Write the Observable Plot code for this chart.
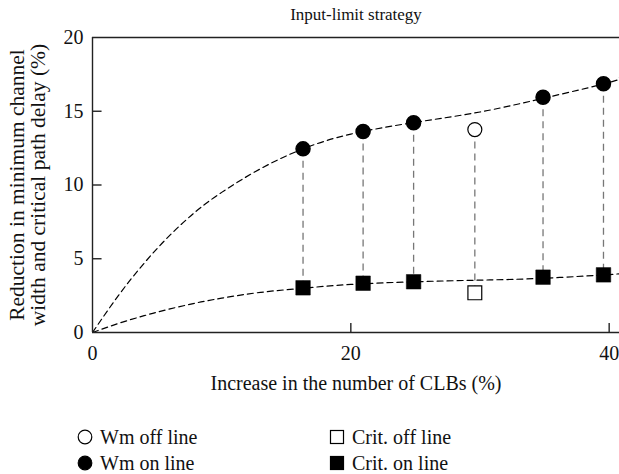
<!DOCTYPE html>
<html>
<head>
<meta charset="utf-8">
<script src="https://cdn.jsdelivr.net/npm/d3@7"></script>
<script src="https://cdn.jsdelivr.net/npm/@observablehq/plot@0.6"></script>
<style>
  html, body { margin: 0; padding: 0; background: #fff; }
  #wrap { position: relative; width: 619px; height: 474px; font-family: "Liberation Serif", serif; color: #111; }
  #legend { position: absolute; left: 0; top: 400px; width: 619px; height: 74px; }
  .item { position: absolute; display: flex; align-items: center; font-size: 20px; line-height: 20px; white-space: nowrap; }
  .item svg { margin-right: 7px; }
</style>
</head>
<body>
<div id="wrap"><div id="chart"></div><div id="legend"></div></div>
<script>
// ---- data ----
const title = "Input-limit strategy";
const xLabel = "Increase in the number of CLBs (%)";
const yLabel = "Reduction in minimum channel\nwidth and critical path delay (%)";

const onX      = [16.3, 20.95, 24.86, 34.88, 39.56];
const wmOn     = [12.45, 13.63, 14.22, 15.95, 16.86];
const critOn   = [3.03, 3.34, 3.44, 3.75, 3.91];

const offX     = [29.6];
const wmOff    = [13.76];
const critOff  = [2.69];

// dashed trend curves
const fitX     = [0, 2, 4, 6, 8, 10, 13, 16.3, 20, 25, 30, 35, 40, 40.8];
const wmFit    = [0, 2.5, 4.7, 6.6, 8.2, 9.5, 11.1, 12.45, 13.45, 14.25, 14.95, 15.9, 16.95, 17.3];
const critFit  = [0, 0.61, 1.14, 1.6, 2.0, 2.33, 2.72, 3.0, 3.26, 3.44, 3.55, 3.68, 3.93, 3.98];

const xTicks = [0, 20, 40];
const yTicks = [0, 5, 10, 15, 20];

const legendItems = [
  {label: "Wm off line", symbol: "circle", filled: false},
  {label: "Wm on line", symbol: "circle", filled: true},
  {label: "Crit. off line", symbol: "square", filled: false},
  {label: "Crit. on line", symbol: "square", filled: true}
];

// ---- tables ----
const onPts  = onX.map((x, i) => ({x, wm: wmOn[i], crit: critOn[i]}));
const offPts = offX.map((x, i) => ({x, wm: wmOff[i], crit: critOff[i]}));
const allPts = onPts.concat(offPts);
const fit    = fitX.map((x, i) => ({x, wm: wmFit[i], crit: critFit[i]}));

const font = "Liberation Serif";

const chart = Plot.plot({
  width: 619,
  height: 400,
  marginTop: 37,
  marginBottom: 68,
  marginLeft: 92,
  marginRight: 0,
  style: {fontFamily: font, fontSize: "20px", color: "#111", background: "#fff"},
  x: {domain: [0, 40.8]},
  y: {domain: [0, 20]},
  marks: [
    // title
    Plot.text([title], {frameAnchor: "top", lineAnchor: "middle", textAnchor: "middle", dy: -23, fontSize: 17, fill: "#111"}),
    // connectors
    Plot.link(allPts, {x1: "x", x2: "x", y1: "wm", y2: "crit", stroke: "#777", strokeWidth: 1.3, strokeDasharray: "7,5"}),
    // trend curves
    Plot.line(fit, {x: "x", y: "wm", curve: "natural", stroke: "#000", strokeWidth: 1.2, strokeDasharray: "6,4", clip: true}),
    Plot.line(fit, {x: "x", y: "crit", curve: "natural", stroke: "#000", strokeWidth: 1.2, strokeDasharray: "6,4", clip: true}),
    // frame (left, bottom, top)
    Plot.ruleX([0], {stroke: "#222", strokeWidth: 1.4}),
    Plot.ruleY([0, 20], {stroke: "#222", strokeWidth: 1.4}),
    // inward ticks
    Plot.link(yTicks.slice(1, -1), {x1: 0, x2: 0.7, y1: d => d, y2: d => d, stroke: "#222", strokeWidth: 1.4}),
    Plot.link(xTicks.slice(1), {x1: d => d, x2: d => d, y1: 0, y2: 0.65, stroke: "#222", strokeWidth: 1.4}),
    Plot.axisX({ticks: xTicks, tickSize: 0, tickPadding: 13, fontSize: 20, label: null}),
    Plot.axisY({ticks: yTicks, tickSize: 0, tickPadding: 9, fontSize: 20, label: null}),
    // axis labels
    Plot.text([xLabel], {frameAnchor: "bottom", lineAnchor: "middle", textAnchor: "middle", dy: 51, fontSize: 20, fill: "#111"}),
    Plot.text([yLabel], {frameAnchor: "left", lineAnchor: "middle", textAnchor: "middle", rotate: -90, dx: -65, fontSize: 21.5, lineHeight: 1.02, fill: "#111"}),
    // markers
    Plot.dot(onPts, {x: "x", y: "wm", r: 7, fill: "#000", stroke: "#000"}),
    Plot.dot(offPts, {x: "x", y: "wm", r: 7, fill: "#fff", stroke: "#000", strokeWidth: 1.2}),
    Plot.dot(onPts, {x: "x", y: "crit", symbol: "square", r: 8.2, fill: "#000", stroke: "#000", strokeWidth: 0.5}),
    Plot.dot(offPts, {x: "x", y: "crit", symbol: "square", r: 7.8, fill: "#fff", stroke: "#000", strokeWidth: 1.2})
  ]
});
document.getElementById("chart").appendChild(chart);

// ---- legend ----
const pos = [
  {left: 77, top: 27}, {left: 77, top: 53}, {left: 329, top: 27}, {left: 329, top: 53}
];
const legend = document.getElementById("legend");
legendItems.forEach((d, i) => {
  const div = document.createElement("div");
  div.className = "item";
  div.style.left = pos[i].left + "px";
  div.style.top = pos[i].top + "px";
  const fill = d.filled ? "#000" : "#fff";
  const shape = d.symbol === "circle"
    ? `<circle cx="8" cy="8" r="6.8" fill="${fill}" stroke="#000" stroke-width="1.2"/>`
    : `<rect x="1.5" y="1.5" width="13" height="13" fill="${fill}" stroke="#000" stroke-width="1.2"/>`;
  div.innerHTML = `<svg width="16" height="16" viewBox="0 0 16 16">${shape}</svg><span>${d.label}</span>`;
  legend.appendChild(div);
});
</script>
</body>
</html>
